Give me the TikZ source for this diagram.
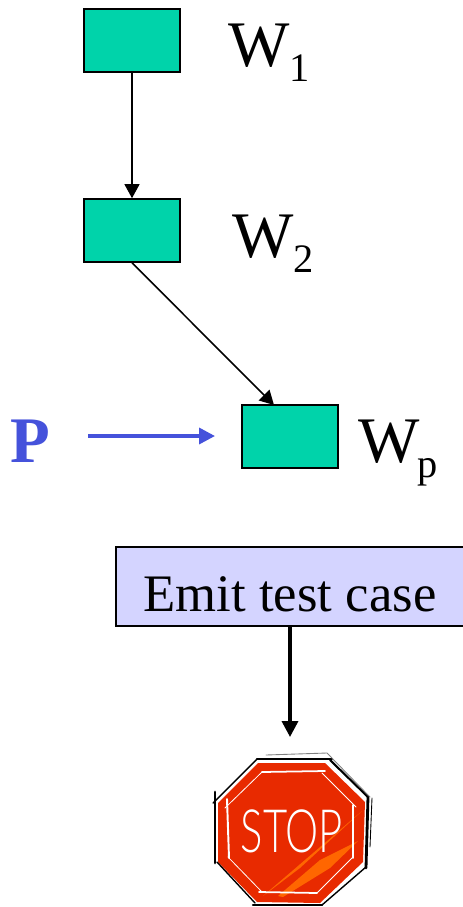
\documentclass[tikz,border=0pt]{standalone}
\usepackage{graphicx}
\usepackage{fontspec}
\setmainfont{Liberation Serif}
\newfontfamily\stopfont{Lato}[UprightFont=* Light]
\usetikzlibrary{arrows.meta}
\definecolor{wgreen}{RGB}{0,211,170}
\definecolor{emitblue}{RGB}{212,212,255}
\definecolor{pblue}{RGB}{69,82,219}
\definecolor{stopred}{RGB}{232,42,0}
\definecolor{stoporange}{RGB}{255,102,0}
\newcommand{\wlabel}[2]{\fontsize{37}{40}\selectfont W\hspace{#1}\raisebox{-9pt}{\fontsize{23}{27}\selectfont #2}}
\tikzset{
    wbox/.style={draw=black,line width=0.9pt,fill=wgreen,minimum width=1.92cm,minimum height=1.26cm},
    wlink/.style={black,line width=0.9pt,-{Triangle[length=8pt,width=8.5pt]}},
    emitbox/.style={draw=black,line width=0.9pt,fill=emitblue,minimum width=6.96cm,minimum height=1.58cm,font=\fontsize{30}{34}\selectfont},
    sketch/.style={black,line width=0.8pt,line cap=round},
    chalk/.style={white,line width=0.45pt,line cap=round}
}
\begin{document}
\begin{tikzpicture}[x=0.02cm,y=0.02cm]
                \tikzstyle{every node}+=[inner sep=0pt]
                \useasboundingbox (0,0) rectangle (463,-907);
                \clip (0,0) rectangle (463,-907);
                \node [wbox] (w1) at (132,-40.5) {};
                \node [wbox] (w2) at (132,-230.5) {};
                \node [wbox] (wp) at (290,-436.5) {};
                \node [anchor=base west] (w1label) at (228,-66) {\wlabel{0pt}{1}};
                \node [anchor=base west] (w2label) at (232,-257) {\wlabel{0pt}{2}};
                \node [anchor=base west] (wplabel) at (358,-462) {\wlabel{-1.5pt}{p}};
                \node [anchor=base west,text=pblue,font=\fontsize{37}{40}\selectfont\bfseries] (p) at (10,-462) {P};
                \node [emitbox] (emit) at (290,-586.5) {\raisebox{-14.5pt}[0pt][0pt]{Emit test case}};
                \coordinate (wptop) at (274,-405);
                \coordinate (pstart) at (88,-436);
                \coordinate (pend) at (215,-436);
                \coordinate (stoptop) at (290,-737);
                \draw [wlink] (w1.south) -- (w2.north);
                \draw [wlink] (w2.south) -- (wptop);
                \draw [pblue,line width=2pt,-{Triangle[length=9pt,width=9pt]}] (pstart) -- (pend);
                \draw [black,line width=2pt,-{Triangle[length=9pt,width=9pt]}] (emit.south) -- (stoptop);
                \fill [stopred] (258,-763) -- (325,-763) -- (365,-802) -- (363,-862) -- (320,-903) -- (257,-902) -- (218,-862) -- (218,-803) -- cycle;
                \fill [stoporange] (263,-896) -- (362,-811) -- (300,-868) -- cycle;
                \fill [stoporange] (278,-896) -- (320,-860) -- (358,-841) -- (330,-868) -- (283,-897) -- cycle;
                \draw [sketch,line width=1.2pt] (257,-759) -- (332,-759);
                \draw [sketch,line width=1.2pt] (330,-760) -- (368,-797);
                \draw [sketch,line width=1.6pt] (368,-797) -- (366,-868);
                \draw [sketch,line width=1.6pt] (215,-792) -- (215,-863);
                \draw [sketch] (213,-803) -- (257,-759);
                \draw [sketch] (217,-862) -- (255,-903);
                \draw [sketch,line width=1.2pt] (253,-905) -- (322,-905);
                \draw [sketch] (366,-867) -- (322,-905);
                \draw [sketch,gray,line width=0.5pt] (266,-755) -- (327,-753) -- (370,-797);
                \draw [sketch,line width=0.5pt] (372,-798) -- (370,-847);
                \draw [chalk,line width=1pt] (262,-772) -- (325,-771);
                \draw [chalk] (322,-773) -- (356,-807);
                \draw [chalk,line width=0.9pt] (353,-805) -- (353,-858);
                \draw [chalk] (353,-857) -- (317,-893);
                \draw [chalk,line width=1pt] (317,-893) -- (259,-892);
                \draw [chalk] (262,-892) -- (228,-857);
                \draw [chalk,line width=1.1pt] (229,-858) -- (227,-799);
                \draw [chalk] (225,-808) -- (262,-772);
                \node [text=white,font=\stopfont\fontsize{34}{38}\selectfont] (stoptext) at (292,-831) {\scalebox{0.7}[1]{STOP}};
\end{tikzpicture}
\end{document}
